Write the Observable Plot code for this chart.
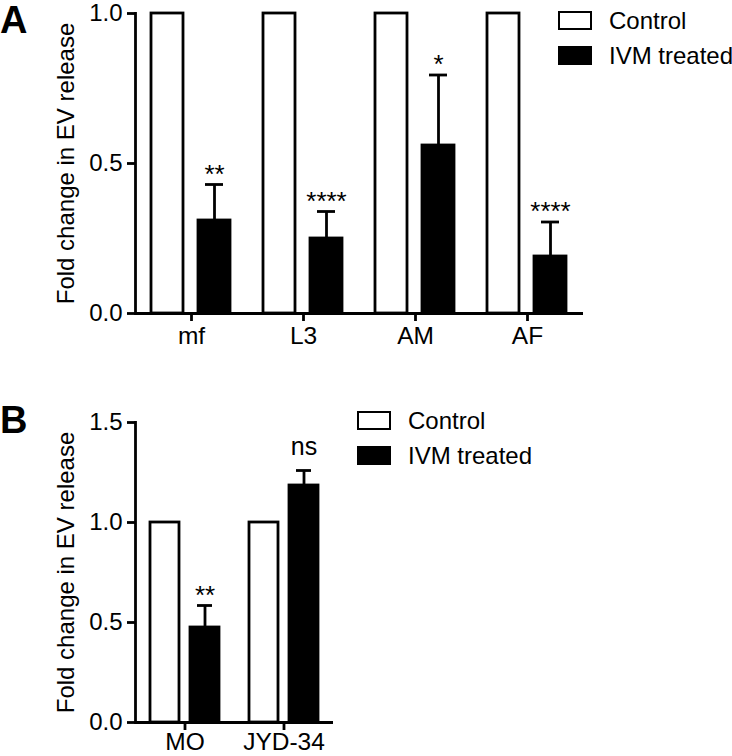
<!DOCTYPE html>
<html><head><meta charset="utf-8">
<script src="https://cdn.jsdelivr.net/npm/d3@7"></script>
<script src="https://cdn.jsdelivr.net/npm/@observablehq/plot@0.6"></script>
<style>
body{margin:0;background:#fff;}
#wrap{position:relative;width:732px;height:756px;overflow:hidden;font-family:"Liberation Sans",Arial,sans-serif;color:#000;}
.panel{position:absolute;left:0;}
.plabel{position:absolute;left:0;font-weight:bold;font-size:38px;line-height:1;}
.leg{position:absolute;font-size:24px;white-space:nowrap;}
.leg .row{display:flex;align-items:center;height:35px;}
.leg .sw{box-sizing:border-box;width:34px;height:19px;border:2.8px solid #000;margin-right:17px;}
</style>
</head><body>
<div id="wrap"></div>
<script>
// ---- Data ----
const groups = ["Control", "IVM treated"];

const catsA = ["mf", "L3", "AM", "AF"];
const controlA = [1, 1, 1, 1];
const treatedA = [0.31, 0.25, 0.56, 0.19];
const errA = [0.12, 0.09, 0.235, 0.115];
const sigA = ["**", "****", "*", "****"];
const ticksA = [0, 0.5, 1.0];

const catsB = ["MO", "JYD-34"];
const controlB = [1, 1];
const treatedB = [0.475, 1.185];
const errB = [0.11, 0.075];
const sigB = ["**", "ns"];
const ticksB = [0, 0.5, 1.0, 1.5];

const yLabel = "Fold change in EV release";

function rows(cats, ctrl, trt, err, sig) {
  return cats.flatMap((c, i) => [
    {cat: c, group: groups[0], value: ctrl[i], err: 0, sig: ""},
    {cat: c, group: groups[1], value: trt[i], err: err[i], sig: sig[i]}
  ]);
}

function panel(data, cats, ticks, opts) {
  const trt = data.filter(d => d.group === groups[1]);
  const stars = trt.filter(d => d.sig !== "ns");
  const ns = trt.filter(d => d.sig === "ns");
  const top = d => d.value + d.err;
  const sw = 2.8;
  return Plot.plot({
    width: 732,
    height: opts.height,
    marginTop: opts.marginTop,
    marginBottom: opts.marginBottom,
    marginLeft: 134,
    marginRight: opts.marginRight,
    style: {fontFamily: "Liberation Sans, Arial, sans-serif", color: "#000", background: "transparent", overflow: "visible"},
    fx: {domain: cats, padding: 0, label: null},
    x: {domain: groups, paddingInner: opts.pi, paddingOuter: opts.po, axis: null},
    y: {domain: [ticks[0], ticks[ticks.length - 1]]},
    color: {domain: groups, range: ["white", "black"]},
    marks: [
      Plot.barY(data, {fx: "cat", x: "group", y: "value", fill: "group", stroke: "black", strokeWidth: sw}),
      Plot.ruleX(trt, {fx: "cat", x: "group", y1: "value", y2: top, stroke: "black", strokeWidth: sw}),
      Plot.tickY(trt, {fx: "cat", x: "group", y: top, stroke: "black", strokeWidth: sw, insetLeft: 7, insetRight: 7}),
      Plot.text(stars, {fx: "cat", x: "group", y: top, text: "sig", lineAnchor: "bottom", dy: -2, fontSize: 26}),
      Plot.text(ns, {fx: "cat", x: "group", y: top, text: "sig", lineAnchor: "bottom", dy: -16, fontSize: 25}),
      Plot.ruleY([0], {stroke: "black", strokeWidth: sw}),
      Plot.frame({anchor: "left", facet: "super", stroke: "black", strokeWidth: sw}),
      Plot.axisY({ticks, tickFormat: ".1f", tickSize: 8, tickPadding: 5, fontSize: 24, strokeWidth: sw,
        label: yLabel, labelAnchor: "center", labelArrow: "none", labelOffset: 79}),
      Plot.axisFx({anchor: "bottom", tickSize: 8, tickPadding: opts.fxPad, fontSize: 24.5, strokeWidth: sw, label: null})
    ]
  });
}

const wrap = document.getElementById("wrap");

function addPanel(svg, top, letter, legLeft, letterTop, legTop) {
  const p = document.createElement("div");
  p.className = "panel"; p.style.top = top + "px";
  p.appendChild(svg);
  wrap.appendChild(p);
  const l = document.createElement("div");
  l.className = "plabel"; l.style.top = letterTop + "px"; l.textContent = letter;
  wrap.appendChild(l);
  const leg = document.createElement("div");
  leg.className = "leg"; leg.style.left = legLeft + "px"; leg.style.top = legTop + "px";
  groups.forEach((g, i) => {
    const r = document.createElement("div"); r.className = "row";
    const s = document.createElement("div"); s.className = "sw";
    s.style.background = i === 0 ? "white" : "black";
    const t = document.createElement("span"); t.textContent = g;
    r.appendChild(s); r.appendChild(t); leg.appendChild(r);
  });
  wrap.appendChild(leg);
}

const svgA = panel(rows(catsA, controlA, treatedA, errA, sigA), catsA, ticksA,
  {height: 347, marginTop: 13, marginBottom: 34, marginRight: 149, pi: 0.31, po: 0.33, fxPad: 5});
const svgB = panel(rows(catsB, controlB, treatedB, errB, sigB), catsB, ticksB,
  {height: 354, marginTop: 22, marginBottom: 32, marginRight: 399, pi: 0.28, po: 0.35, fxPad: 2});

addPanel(svgA, 0, "A", 558, 1, 3);
addPanel(svgB, 400, "B", 357, 401, 403);
</script>
</body></html>
